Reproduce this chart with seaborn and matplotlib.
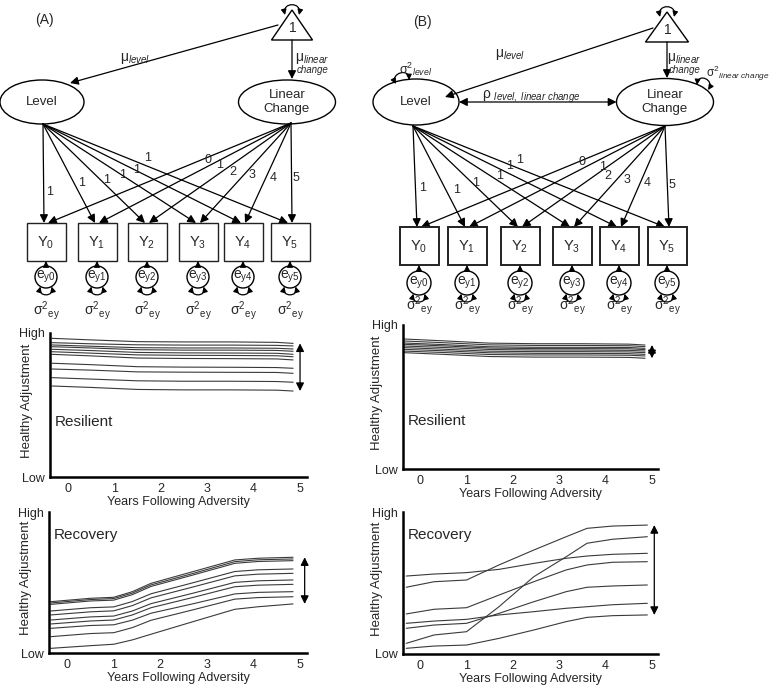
import numpy as np
import pandas as pd
import matplotlib
matplotlib.use("Agg")
import matplotlib.pyplot as plt
import seaborn as sns
from matplotlib.patches import Ellipse, Rectangle, Polygon, Circle, FancyArrowPatch
from matplotlib.path import Path

W, H = 772, 689

# =============================================================================
# Datos (escala 0 = Low, 100 = High)
# =============================================================================
YEAR_TICKS = [0, 1, 2, 3, 4, 5]
OCCASIONS = [0, 1, 2, 3, 4, 5]
LEVEL_LOADINGS = ["1", "1", "1", "1", "1", "1"]
SLOPE_LOADINGS = ["0", "1", "2", "3", "4", "5"]

YEARS_RES = [-0.35, 0.5, 1.5, 2.5, 3.5, 4.5, 4.85]
RESILIENT_A = [
    [96.3, 95.2, 94.0, 93.8, 93.8, 93.5, 92.8],
    [93.3, 92.5, 91.8, 91.6, 91.6, 91.4, 91.0],
    [91.7, 90.8, 89.8, 89.6, 89.6, 89.4, 88.9],
    [90.5, 89.6, 88.4, 88.1, 88.1, 87.9, 87.3],
    [88.7, 87.8, 86.5, 86.2, 86.1, 85.9, 85.2],
    [87.0, 86.0, 84.8, 84.5, 84.4, 84.2, 83.5],
    [85.2, 84.1, 82.6, 82.3, 82.2, 82.0, 81.3],
    [79.0, 78.0, 76.6, 76.3, 76.2, 76.0, 75.5],
    [75.0, 74.2, 73.0, 72.8, 72.7, 72.6, 72.0],
    [69.0, 68.0, 66.8, 66.5, 66.5, 66.3, 65.8],
    [63.2, 62.2, 60.8, 60.5, 60.5, 60.3, 59.7],
]
RESILIENT_B = [
    [90.3, 89.0, 87.4, 87.0, 87.0, 86.7, 86.1],
    [88.9, 87.7, 86.2, 85.8, 85.8, 85.6, 85.0],
    [87.5, 86.4, 84.9, 84.5, 84.5, 84.4, 83.8],
    [86.6, 85.5, 84.0, 83.6, 83.6, 83.5, 82.9],
    [85.4, 84.4, 83.0, 82.6, 82.6, 82.4, 81.9],
    [84.3, 83.2, 81.8, 81.5, 81.5, 81.3, 80.8],
    [83.1, 82.1, 80.7, 80.3, 80.3, 80.1, 79.6],
    [81.9, 80.9, 79.5, 79.2, 79.2, 79.0, 78.5],
    [80.8, 79.6, 78.1, 77.7, 77.7, 77.5, 76.9],
]

YEARS_REC_A = [-0.35, 0.5, 1.0, 1.4, 1.8, 2.7, 3.6, 4.1, 4.85]
RECOVERY_A = [
    [36.4, 38.8, 39.5, 43.5, 49.4, 57.7, 66.0, 67.2, 67.9],
    [35.5, 37.9, 38.6, 42.5, 48.3, 56.4, 64.8, 66.1, 66.7],
    [34.5, 36.9, 37.5, 41.4, 47.2, 55.3, 63.6, 64.9, 65.5],
    [29.8, 32.1, 32.7, 36.5, 42.0, 49.8, 57.8, 59.0, 59.6],
    [27.0, 29.2, 29.9, 33.6, 39.1, 46.8, 54.7, 55.9, 56.5],
    [23.4, 25.6, 26.2, 29.8, 35.0, 42.4, 50.1, 51.2, 51.8],
    [20.6, 22.7, 23.4, 27.0, 32.1, 39.4, 47.0, 48.1, 48.7],
    [17.5, 19.5, 20.0, 23.3, 28.2, 34.9, 41.9, 43.0, 43.5],
    [11.6, 13.8, 14.4, 18.0, 23.2, 30.6, 38.2, 39.3, 39.9],
    [3.3, 5.2, 6.2, 9.3, 13.3, 22.2, 31.0, 32.8, 34.8],
]

YEARS_REC_B = [-0.3, 0.3, 1.0, 1.7, 2.45, 3.15, 3.6, 4.15, 4.9]
RECOVERY_B = [
    [54.9, 56.3, 57.3, 59.6, 63.8, 67.4, 69.0, 70.2, 70.9],
    [47.0, 50.9, 52.1, 62.7, 73.2, 82.6, 88.5, 90.1, 90.8],
    [28.2, 31.5, 32.6, 41.5, 50.9, 59.2, 62.7, 64.6, 65.0],
    [7.5, 13.4, 15.7, 33.3, 54.4, 68.5, 78.0, 80.8, 82.6],
    [21.6, 23.2, 24.4, 27.5, 29.8, 32.2, 33.3, 34.7, 35.7],
    [18.1, 20.4, 21.6, 28.6, 36.8, 43.9, 47.0, 47.9, 48.6],
    [4.0, 5.6, 6.3, 11.0, 16.9, 22.8, 25.8, 27.0, 27.5],
]

# =============================================================================
# Geometría del diagrama (pixeles)
# =============================================================================
LAYOUT_A = dict(
    tag=("(A)", 44, 20),
    apex=(292, 10), tri_base=40, tri_half=20.5,
    level=(42, 102, 84, 44), slope=(287, 102, 97, 44),
    level_out=(43, 124), slope_out=(291, 123),
    mu_level_arrow=((278, 25), (70, 83)), mu_level_txt=(135, 58),
    mu_slope_arrow=((292, 40), (292, 79)), mu_slope_txt=(295, 58),
    box_cx=[46, 97, 147, 198, 243, 290], box_top=223, box_h=38, box_w=39,
    circ_cy=277, circ_r=11, sig_y=311,
    level_lbl=[(50, 192), (82, 183), (107, 180), (123, 175), (137, 170), (148, 158)],
    slope_lbl=[(208, 160), (220, 165), (233, 172), (252, 175), (273, 178), (296, 178)],
    box_lw=1.0,
)
LAYOUT_B = dict(
    tag=("(B)", 422, 22),
    apex=(667, 12), tri_base=42, tri_half=21.5,
    level=(416, 102, 86, 46), slope=(665, 102, 97, 47),
    level_out=(413, 126), slope_out=(665, 126),
    mu_level_arrow=((653, 28), (445, 97)), mu_level_txt=(510, 55),
    mu_slope_arrow=((667, 42), (667, 78)), mu_slope_txt=(667, 58),
    box_cx=[419, 467, 520, 572, 619, 667], box_top=227, box_h=38, box_w=39,
    circ_cy=283, circ_r=12, sig_y=306,
    level_lbl=[(423, 188), (457, 190), (476, 183), (500, 176), (510, 166), (520, 160)],
    slope_lbl=[(582, 162), (603, 167), (608, 176), (627, 180), (647, 183), (672, 185)],
    box_lw=1.4,
)

# rectángulos de los ejes (izq, arriba, der, abajo) en pixeles
RECT_RES_A = (50, 333, 307, 477)
RECT_REC_A = (49, 512, 307, 653)
RECT_RES_B = (403, 325, 658, 469)
RECT_REC_B = (403, 512, 658, 654)

sns.set_theme(style="white")
plt.rcParams["font.family"] = ["Liberation Sans", "DejaVu Sans"]
plt.rcParams["mathtext.fontset"] = "custom"
plt.rcParams["mathtext.rm"] = "Liberation Sans"
plt.rcParams["mathtext.it"] = "Liberation Sans:italic"
plt.rcParams["mathtext.sf"] = "Liberation Sans"

HEAD = "head_length=0.7,head_width=0.35"


def arrow(ax, p0, p1, style="-|>", lw=0.9, ms=7):
    ax.add_patch(FancyArrowPatch(
        p0, p1, arrowstyle=f"{style},{HEAD}", mutation_scale=ms, lw=lw,
        color="black", shrinkA=0, shrinkB=0))


def loop(ax, p0, p1, normal, depth=9, ms=4.5):
    """Flecha bidireccional en forma de lazo (varianza)."""
    p0 = np.asarray(p0, float)
    p1 = np.asarray(p1, float)
    n = np.asarray(normal, float)
    n = n / np.linalg.norm(n)
    t = (p1 - p0) / np.linalg.norm(p1 - p0)
    c1 = p0 + n * depth * 1.33 - t * 3
    c2 = p1 + n * depth * 1.33 + t * 3
    path = Path([p0, c1, c2, p1],
                [Path.MOVETO, Path.CURVE4, Path.CURVE4, Path.CURVE4])
    ax.add_patch(FancyArrowPatch(path=path, arrowstyle=f"<|-|>,{HEAD}",
                                 mutation_scale=ms, lw=0.9, color="black"))


def draw_model(ax, lay, correlated):
    tag, tx0, ty0 = lay["tag"]
    ax.text(tx0, ty0, tag, ha="center", va="center", fontsize=10)

    # constante (triángulo)
    tx, ty = lay["apex"]
    base, half = lay["tri_base"], lay["tri_half"]
    ax.add_patch(Polygon([(tx, ty), (tx - half, base), (tx + half, base)],
                         closed=True, fill=False, ec="black", lw=1.0))
    ax.text(tx + 1, base - 12, "1", ha="center", va="center", fontsize=10)
    loop(ax, (tx - 7, ty + 5), (tx + 7, ty + 5), (0, -1), depth=10)

    # factores latentes
    for key, name in (("level", "Level"), ("slope", "Linear\nChange")):
        cx, cy, w, h = lay[key]
        ax.add_patch(Ellipse((cx, cy), w, h, fill=False, ec="black", lw=1.0))
        ax.text(cx, cy, name, ha="center", va="center", fontsize=9.5,
                linespacing=1.2)

    # medias
    arrow(ax, *lay["mu_level_arrow"])
    ax.text(*lay["mu_level_txt"], r"$\mathrm{μ}_{\mathit{level}}$",
            ha="center", va="center", fontsize=10)
    arrow(ax, *lay["mu_slope_arrow"])
    mx, my = lay["mu_slope_txt"]
    ax.text(mx, my, r"$\mathrm{μ}_{\mathit{linear}}$", ha="left",
            va="center", fontsize=10)
    ax.text(mx + 2, my + 12, "change", ha="left", va="center",
            fontsize=7, style="italic")

    if correlated:
        lcx, lcy, lw_, lh = lay["level"]
        scx, scy, sw, sh = lay["slope"]
        arrow(ax, (lcx + lw_ / 2, lcy), (scx - sw / 2, scy), style="<|-|>")
        ax.text(482, 97, r"$\mathrm{ρ}\ _{\mathit{level,\ linear\ change}}$",
                ha="left", va="center", fontsize=10)
        loop(ax, (396, 84), (409, 80), (-0.25, -1), depth=9)
        ax.text(399, 69, r"$\mathrm{σ}^{\mathrm{2}}{}_{\mathit{level}}$",
                ha="left", va="center", fontsize=9)
        loop(ax, (697, 85), (708, 90), (0.35, -1), depth=9)
        ax.text(706, 73, r"$\mathrm{σ}^{\mathrm{2}}{}_{\mathit{linear\ change}}$",
                ha="left", va="center", fontsize=8.5)

    # cargas factoriales
    top, bh, bw = lay["box_top"], lay["box_h"], lay["box_w"]
    for bx in lay["box_cx"]:
        arrow(ax, lay["level_out"], (bx - 2, top))
        arrow(ax, lay["slope_out"], (bx + 2, top))
    for (lx, ly), lab in zip(lay["level_lbl"], LEVEL_LOADINGS):
        ax.text(lx, ly, lab, ha="center", va="center", fontsize=9)
    for (lx, ly), lab in zip(lay["slope_lbl"], SLOPE_LOADINGS):
        ax.text(lx, ly, lab, ha="center", va="center", fontsize=9)

    # variables observadas y residuos
    r, ccy = lay["circ_r"], lay["circ_cy"]
    for bx, t in zip(lay["box_cx"], OCCASIONS):
        ax.add_patch(Rectangle((bx - bw / 2, top), bw, bh, fill=False,
                               ec="#222222", lw=lay["box_lw"]))
        ax.text(bx, top + bh / 2 + 1, rf"$\mathrm{{Y}}_{{\mathrm{{{t}}}}}$",
                ha="center", va="center", fontsize=10.5)
        ax.add_patch(Circle((bx, ccy), r, fill=False, ec="black", lw=1.0))
        ax.text(bx, ccy, rf"$\mathrm{{e}}_{{\mathrm{{y{t}}}}}$",
                ha="center", va="center", fontsize=10)
        arrow(ax, (bx, ccy - r), (bx, top + bh), ms=5)
        yb = ccy + np.sqrt(r ** 2 - 30)
        loop(ax, (bx - 5.5, yb), (bx + 5.5, yb), (0, 1), depth=8)
        ax.text(bx, lay["sig_y"], r"$\mathrm{σ}^{\mathrm{2}}{}_{\mathrm{ey}}$",
                ha="center", va="center", fontsize=10)


def px_axes(fig, rect):
    l, t, r, b = rect
    return fig.add_axes([l / W, 1 - b / H, (r - l) / W, (b - t) / H])


def draw_traj(fig, rect, years, series, xlim, arrow_x, title, title_y, ylab_x):
    ax = px_axes(fig, rect)
    rows = [(k, x, v) for k, vals in enumerate(series) for x, v in zip(years, vals)]
    df = pd.DataFrame(rows, columns=["person", "year", "adjustment"])
    sns.lineplot(data=df, x="year", y="adjustment", units="person",
                 estimator=None, color="#3a3a3a", lw=0.8, ax=ax, legend=False)
    ax.set_facecolor("none")
    ax.set_xlim(*xlim)
    ax.set_ylim(0, 100)
    ax.set_xticks(YEAR_TICKS)
    ax.set_yticks([0, 100])
    ax.set_yticklabels(["Low", "High"])
    ax.tick_params(length=0, labelsize=9, pad=4)
    for side in ("top", "right"):
        ax.spines[side].set_visible(False)
    for side in ("left", "bottom"):
        ax.spines[side].set_linewidth(1.8)
        ax.spines[side].set_color("black")
    ax.set_xlabel("Years Following Adversity", fontsize=9, labelpad=1)
    ax.set_ylabel("Healthy Adjustment", fontsize=9.5)
    ax.yaxis.set_label_coords(ylab_x, 0.53)
    ax.text(0.02, title_y, title, transform=ax.transAxes, fontsize=11,
            ha="left", va="center")
    ends = [s[-1] for s in series]
    ax.annotate("", xy=(arrow_x, max(ends)), xytext=(arrow_x, min(ends)),
                arrowprops=dict(arrowstyle="<|-|>,head_length=0.6,head_width=0.3",
                                lw=0.9, color="black", shrinkA=0, shrinkB=0,
                                mutation_scale=8))
    return ax


fig = plt.figure(figsize=(W / 100, H / 100), dpi=100)
diag = fig.add_axes([0, 0, 1, 1])
diag.set_xlim(0, W)
diag.set_ylim(H, 0)
diag.set_axis_off()

draw_model(diag, LAYOUT_A, correlated=False)
draw_model(diag, LAYOUT_B, correlated=True)

draw_traj(fig, RECT_RES_A, YEARS_RES, RESILIENT_A, (-0.39, 5.15), 5.0,
          "Resilient", 0.38, -0.066)
draw_traj(fig, RECT_REC_A, YEARS_REC_A, RECOVERY_A, (-0.39, 5.15), 5.1,
          "Recovery", 0.84, -0.066)
draw_traj(fig, RECT_RES_B, YEARS_RES, RESILIENT_B, (-0.37, 5.13), 5.0,
          "Resilient", 0.33, -0.078)
draw_traj(fig, RECT_REC_B, YEARS_REC_B, RECOVERY_B, (-0.37, 5.13), 5.05,
          "Recovery", 0.84, -0.078)

fig.savefig("out.png", dpi=100)
